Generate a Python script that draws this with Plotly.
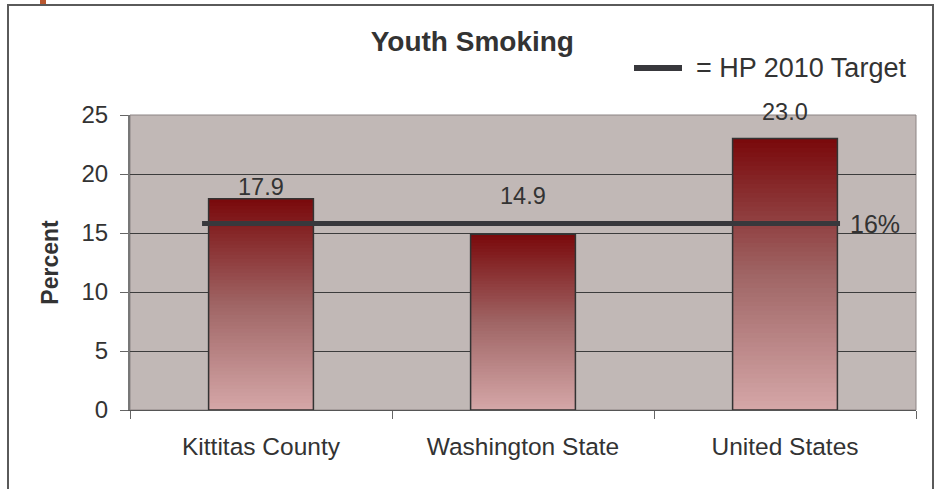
import plotly.graph_objects as go

# ---- data ----
categories = ["Kittitas County", "Washington State", "United States"]
values = [17.9, 14.9, 23.0]
target_value = 15.8
target_label = "16%"
legend_label = "= HP 2010 Target"
title_text = "Youth Smoking"
y_title = "Percent"
y_ticks = [0, 5, 10, 15, 20, 25]

# ---- styling ----
W, H = 939, 489
ML, MR, MT, MB = 130, 23, 115, 79
PW, PH = W - ML - MR, H - MT - MB
FONT = "Liberation Sans, Arial, sans-serif"
TXT = "#333333"
label_shifts = [12, 38, 27]   # vertical offset of the value labels (px)
BAR_W = 0.4


def px_x(px):
    return (px - ML) / PW


def px_y(py):
    return (H - MB - py) / PH


def lerp(c1, c2, t):
    return tuple(round(a + (b - a) * t) for a, b in zip(c1, c2))


stops = [(0.0, (214, 168, 169)), (0.5, (160, 102, 102)), (1.0, (122, 10, 12))]


def grad(t):
    for (t0, c0), (t1, c1) in zip(stops[:-1], stops[1:]):
        if t <= t1:
            return "rgb(%d,%d,%d)" % lerp(c0, c1, (t - t0) / (t1 - t0))
    return "rgb(%d,%d,%d)" % stops[-1][1]


fig = go.Figure()

# gradient fill: successive overlaid bars, each shorter and lighter
N = 60
for i in range(N):
    frac = (N - i) / N
    fig.add_trace(go.Bar(
        x=categories, y=[v * frac for v in values], width=BAR_W,
        marker=dict(color=grad(frac), line=dict(width=0)),
        hoverinfo="skip", showlegend=False,
    ))

# outline of bars
fig.add_trace(go.Bar(
    x=categories, y=values, width=BAR_W,
    marker=dict(color="rgba(0,0,0,0)", line=dict(color="#333333", width=1.5)),
    showlegend=False,
))

# value labels
for c, v, s in zip(categories, values, label_shifts):
    fig.add_annotation(x=c, y=v, text=f"{v:.1f}", showarrow=False,
                       yanchor="middle", yshift=s,
                       font=dict(family=FONT, size=23.5, color=TXT))

# target line
fig.add_shape(type="line", xref="x", yref="y", x0=-0.225, x1=2.21,
              y0=target_value, y1=target_value,
              line=dict(color="#38383c", width=5))
fig.add_annotation(x=2.21, y=target_value, xref="x", yref="y",
                   text=target_label, showarrow=False, xanchor="left",
                   yanchor="middle", xshift=8,
                   font=dict(family=FONT, size=25, color=TXT))

# legend
fig.add_shape(type="line", xref="paper", yref="paper",
              x0=px_x(634), x1=px_x(682), y0=px_y(68), y1=px_y(68),
              line=dict(color="#38383c", width=6))
fig.add_annotation(x=px_x(694), y=px_y(68), xref="paper", yref="paper",
                   text=legend_label, showarrow=False, xanchor="left",
                   yanchor="middle",
                   font=dict(family=FONT, size=27, color=TXT))

# plot area border
fig.add_shape(type="rect", xref="paper", yref="paper", x0=0, x1=1, y0=0, y1=1,
              line=dict(color="#8c8484", width=1), layer="below")

# outer frame and orange accent
fig.add_shape(type="rect", xref="paper", yref="paper",
              x0=px_x(8), x1=px_x(933), y0=px_y(500), y1=px_y(5),
              line=dict(color="#5a5a5a", width=2))
fig.add_shape(type="rect", xref="paper", yref="paper",
              x0=px_x(40), x1=px_x(46), y0=px_y(4), y1=px_y(-2),
              line=dict(width=0), fillcolor="#b9572f")

fig.update_layout(
    width=W, height=H,
    margin=dict(l=ML, r=MR, t=MT, b=MB),
    paper_bgcolor="white",
    plot_bgcolor="#c1b8b6",
    barmode="overlay",
    bargap=0.6,
    showlegend=False,
    title=dict(text=f"<b>{title_text}</b>", x=0.503, xref="container",
               xanchor="center", y=1 - 41 / H, yanchor="middle",
               font=dict(family=FONT, size=28, color=TXT)),
    font=dict(family=FONT, color=TXT),
    xaxis=dict(
        type="category", tickson="boundaries", ticks="outside", ticklen=8,
        tickcolor="#666666", showline=True, linecolor="#555555", linewidth=1,
        showgrid=False, tickfont=dict(family=FONT, size=24.5, color=TXT),
        ticklabelstandoff=15,
    ),
    yaxis=dict(
        range=[0, 25], tickvals=y_ticks, ticks="outside", ticklen=8,
        tickcolor="#666666", showline=True, linecolor="#777777", linewidth=2,
        gridcolor="#3c3c3c", gridwidth=1, zeroline=False,
        tickfont=dict(family=FONT, size=24, color=TXT),
        ticklabelstandoff=7,
        title=dict(text=f"<b>{y_title}</b>", standoff=16,
                   font=dict(family=FONT, size=23, color=TXT)),
    ),
)

fig.write_html("out.html", config={"displayModeBar": False},
               post_script="document.body.style.margin='0';")
